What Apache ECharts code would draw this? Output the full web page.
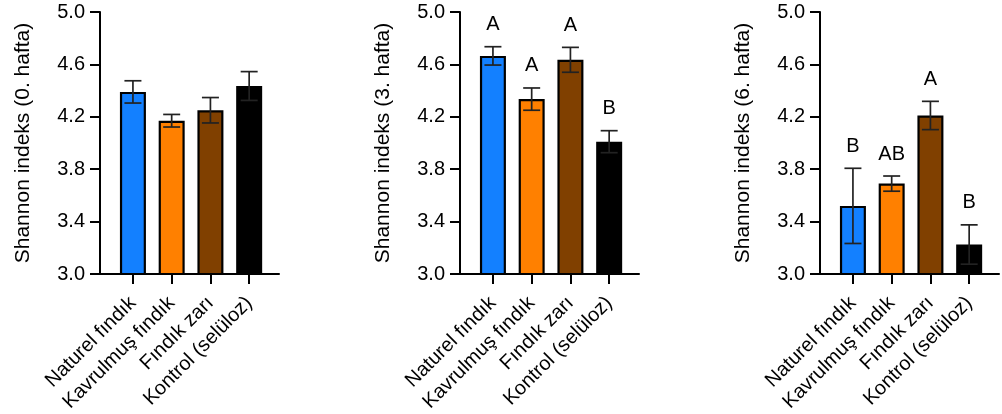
<!DOCTYPE html>
<html>
<head>
<meta charset="utf-8">
<script src="https://cdn.jsdelivr.net/npm/echarts@6/dist/echarts.min.js"></script>
<style>
html,body{margin:0;padding:0;background:#fff;}
#chart{width:1002px;height:414px;}
</style>
</head>
<body>
<div id="chart"></div>
<script>
// ---- data ----
const categories = ['Naturel fındık', 'Kavrulmuş fındık', 'Fındık zarı', 'Kontrol (selüloz)'];
const barColors = ['#1380FF', '#FF8000', '#804000', '#000000'];
const yTicks = [3.0, 3.4, 3.8, 4.2, 4.6, 5.0];
const panelNames = ['Shannon indeks (0. hafta)', 'Shannon indeks (3. hafta)', 'Shannon indeks (6. hafta)'];

const means0 = [4.39, 4.17, 4.25, 4.435];
const sd0    = [0.085, 0.048, 0.097, 0.11];
const letters0 = ['', '', '', ''];

const means3 = [4.665, 4.335, 4.635, 4.01];
const sd3    = [0.07, 0.085, 0.095, 0.084];
const letters3 = ['A', 'A', 'A', 'B'];

const means6 = [3.52, 3.69, 4.21, 3.225];
const sd6    = [0.287, 0.058, 0.108, 0.15];
const letters6 = ['B', 'AB', 'A', 'B'];

const panels = [
  {name: panelNames[0], means: means0, sd: sd0, letters: letters0},
  {name: panelNames[1], means: means3, sd: sd3, letters: letters3},
  {name: panelNames[2], means: means6, sd: sd6, letters: letters6}
];

// ---- chart ----
const FONT = '"Liberation Sans", Arial, Helvetica, sans-serif';
const gridLefts = [100, 460, 820];
const catIdx = [0, 1, 2, 3];
const grids = [], xAxes = [], yAxes = [], series = [];

panels.forEach((p, i) => {
  grids.push({left: gridLefts[i], top: 12, width: 179, height: 262,
              containLabel: false, outerBoundsMode: 'none'});
  xAxes.push({
    type: 'value', gridIndex: i, min: -0.85, max: 3.77,
    splitLine: {show: false},
    axisLine: {show: true, onZero: false, lineStyle: {color: '#000', width: 2}},
    axisTick: {show: true, customValues: catIdx, length: 10, lineStyle: {color: '#000', width: 2}},
    axisLabel: {
      show: true, customValues: catIdx, rotate: 45, margin: 26,
      fontSize: 20, color: '#000', fontFamily: FONT,
      formatter: v => categories[Math.round(v)]
    }
  });
  yAxes.push({
    type: 'value', gridIndex: i, min: 3, max: 5,
    name: p.name, nameLocation: 'middle', nameGap: 66,
    nameTextStyle: {fontSize: 21, color: '#000', fontFamily: FONT},
    splitLine: {show: false},
    axisLine: {show: true, onZero: false, lineStyle: {color: '#000', width: 2}},
    axisTick: {show: true, customValues: yTicks, length: 10, lineStyle: {color: '#000', width: 2}},
    axisLabel: {
      show: true, customValues: yTicks, margin: 15,
      fontSize: 20, color: '#000', fontFamily: FONT,
      formatter: v => Number(v).toFixed(1)
    }
  });
  series.push({
    type: 'bar', xAxisIndex: i, yAxisIndex: i, barWidth: 26,
    clip: true, z: 2,
    data: p.means.map((m, k) => ({
      value: [k, m],
      itemStyle: {color: barColors[k], borderColor: '#000', borderWidth: 2.2}
    }))
  });
  series.push({
    type: 'custom', xAxisIndex: i, yAxisIndex: i, z: 5, clip: false,
    data: p.means.map((m, k) => [k, m, p.sd[k]]),
    renderItem: (params, api) => {
      const x = api.value(0), m = api.value(1), s = api.value(2);
      const top = api.coord([x, m + s]);
      const bot = api.coord([x, m - s]);
      const hw = 8.5;
      const st = {stroke: '#222', lineWidth: 1.7};
      const children = [
        {type: 'line', shape: {x1: top[0], y1: top[1], x2: bot[0], y2: bot[1]}, style: st},
        {type: 'line', shape: {x1: top[0] - hw, y1: top[1], x2: top[0] + hw, y2: top[1]}, style: st},
        {type: 'line', shape: {x1: bot[0] - hw, y1: bot[1], x2: bot[0] + hw, y2: bot[1]}, style: st}
      ];
      const letter = p.letters[params.dataIndex];
      if (letter) {
        children.push({type: 'text', style: {
          text: letter, x: top[0], y: top[1] - 22,
          align: 'center', verticalAlign: 'middle',
          fontSize: 20, fill: '#000', fontFamily: FONT
        }});
      }
      return {type: 'group', children: children};
    }
  });
});

const chart = echarts.init(document.getElementById('chart'), null, {renderer: 'canvas'});
chart.setOption({
  animation: false,
  backgroundColor: '#fff',
  grid: grids, xAxis: xAxes, yAxis: yAxes, series: series
});
</script>
</body>
</html>
